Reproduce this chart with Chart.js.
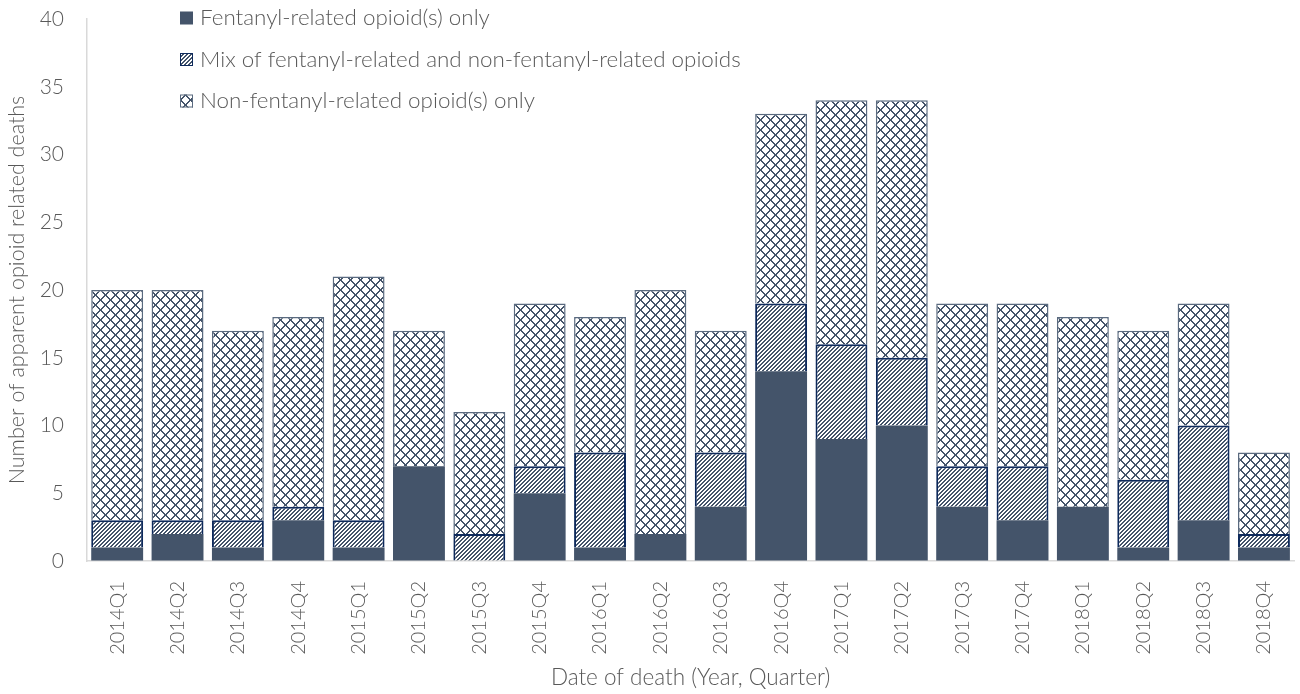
<!DOCTYPE html>
<html>
<head>
<meta charset="utf-8">
<script src="https://cdn.jsdelivr.net/npm/chart.js@4.4.1/dist/chart.umd.min.js"></script>
<style>
  html, body { margin: 0; padding: 0; background: #fff; }
  #wrap { position: relative; width: 1300px; height: 694px; }
</style>
</head>
<body>
<div id="wrap"><canvas id="chart"></canvas></div>
<script>
"use strict";

// データ
const quarters = ["2014Q1", "2014Q2", "2014Q3", "2014Q4", "2015Q1", "2015Q2", "2015Q3", "2015Q4",
  "2016Q1", "2016Q2", "2016Q3", "2016Q4", "2017Q1", "2017Q2", "2017Q3", "2017Q4",
  "2018Q1", "2018Q2", "2018Q3", "2018Q4"];
const fentanylOnly    = [1, 2, 1, 3, 1, 7, 0, 5, 1, 2, 4, 14, 9, 10, 4, 3, 4, 1, 3, 1];
const mixedOpioids    = [2, 1, 2, 1, 2, 0, 2, 2, 7, 0, 4, 5, 7, 5, 3, 4, 0, 5, 7, 1];
const nonFentanylOnly = [17, 17, 14, 14, 18, 10, 9, 12, 10, 18, 9, 14, 18, 19, 12, 12, 14, 11, 9, 6];
const seriesNames = [
  "Fentanyl-related opioid(s) only",
  "Mix of fentanyl-related and non-fentanyl-related opioids",
  "Non-fentanyl-related opioid(s) only"
];
const yTicks = [0, 5, 10, 15, 20, 25, 30, 35, 40];

const FONT = "Lato, 'Open Sans', sans-serif";
const TEXT_COLOR = "#595959";
const SLATE = "#44546a";

// ピクセル単位のパターンを作る
function makePattern(size, color, test) {
  const c = document.createElement("canvas");
  c.width = size;
  c.height = size;
  const g = c.getContext("2d");
  g.fillStyle = "#ffffff";
  g.fillRect(0, 0, size, size);
  g.fillStyle = color;
  for (let y = 0; y < size; y++) {
    for (let x = 0; x < size; x++) {
      if (test(x, y)) g.fillRect(x, y, 1, 1);
    }
  }
  return g.createPattern(c, "repeat");
}

const stripePattern = makePattern(4, SLATE, (x, y) => (x + y) % 4 < 2);
const diamondPattern = makePattern(10, SLATE, (x, y) => {
  const a = ((x - y) % 10 + 10) % 10;
  const b = (x + y) % 10;
  return a === 0 || a === 1 || b === 0 || b === 9;
});

// 凡例は縦並びでプロット内左上に描く
const legendPlugin = {
  id: "innerLegend",
  afterDraw(chart) {
    const { ctx, chartArea } = chart;
    const x = chartArea.left + 93;
    const y0 = chartArea.top - 1;
    ctx.save();
    ctx.font = `300 22.4px ${FONT}`;
    ctx.textBaseline = "middle";
    chart.data.datasets.forEach((ds, i) => {
      const y = y0 + i * 41.5;
      ctx.fillStyle = ds.backgroundColor;
      ctx.fillRect(x, y - 6.5, 13, 13);
      if (ds.legendBorder) {
        ctx.strokeStyle = ds.legendBorder;
        ctx.lineWidth = 1;
        ctx.strokeRect(x + 0.5, y - 6, 12, 12);
      }
      ctx.fillStyle = TEXT_COLOR;
      ctx.fillText(ds.label, x + 20, y);
    });
    ctx.restore();
  }
};

const zeroless = w => c => (c.raw === 0 ? 0 : w);

new Chart(document.getElementById("chart"), {
  type: "bar",
  data: {
    labels: quarters,
    datasets: [
      {
        label: seriesNames[0],
        data: fentanylOnly,
        backgroundColor: SLATE,
        borderWidth: 0
      },
      {
        label: seriesNames[1],
        data: mixedOpioids,
        backgroundColor: stripePattern,
        borderColor: "#0e2a5c",
        borderWidth: zeroless(2),
        legendBorder: "#0e2a5c"
      },
      {
        label: seriesNames[2],
        data: nonFentanylOnly,
        backgroundColor: diamondPattern,
        borderColor: "#5a6a7f",
        borderWidth: zeroless(1.5),
        legendBorder: "#5a6a7f"
      }
    ]
  },
  options: {
    responsive: true,
    maintainAspectRatio: false,
    animation: false,
    layout: { padding: { top: 19, right: 2, left: 0, bottom: 0 } },
    datasets: { bar: { categoryPercentage: 1, barPercentage: 0.86 } },
    plugins: {
      legend: { display: false },
      tooltip: { enabled: false }
    },
    scales: {
      x: {
        stacked: true,
        grid: { display: false },
        border: { display: true, color: "#d9d9d9", width: 1.5 },
        ticks: {
          autoSkip: false,
          minRotation: 90,
          maxRotation: 90,
          padding: 12,
          color: TEXT_COLOR,
          font: { family: FONT, size: 20, weight: 300 }
        },
        title: {
          display: true,
          text: "Date of death (Year, Quarter)",
          color: TEXT_COLOR,
          font: { family: FONT, size: 22.5, weight: 300 },
          padding: { top: 0, bottom: 3 }
        },
        afterFit(scale) { scale.height = 133; }
      },
      y: {
        stacked: true,
        min: 0,
        max: 40,
        // 目盛り線は透明にして、ラベルの位置だけ tickLength で調整
        grid: { display: true, color: "transparent", drawTicks: true, tickLength: 23 },
        border: { display: true, color: "#d9d9d9", width: 1.5 },
        afterBuildTicks(scale) { scale.ticks = yTicks.map(v => ({ value: v })); },
        ticks: {
          padding: 0,
          color: TEXT_COLOR,
          font: { family: FONT, size: 21, weight: 300 }
        },
        title: {
          display: true,
          text: "Number of apparent opioid related deaths",
          color: TEXT_COLOR,
          font: { family: FONT, size: 21.5, weight: 300 },
          padding: { top: 4, bottom: 0 }
        },
        afterFit(scale) { scale.width = 87; }
      }
    }
  },
  plugins: [legendPlugin]
});
</script>
</body>
</html>
